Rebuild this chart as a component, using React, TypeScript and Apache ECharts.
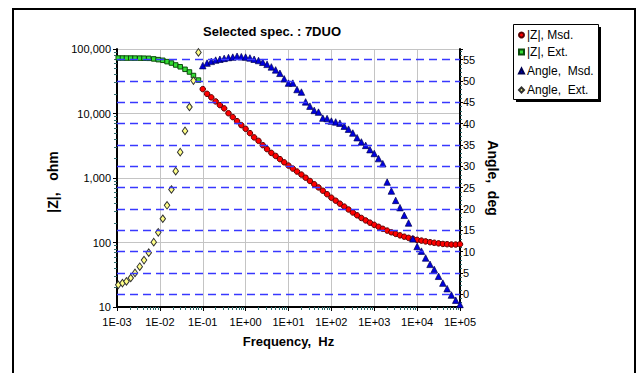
import React, { useEffect, useRef } from "react";
import * as echarts from "echarts";

// Extrapolated (model) data, frequencies in Hz
const extFreq = [0.00107, 0.00134, 0.00166, 0.00209, 0.00263, 0.00339, 0.00427, 0.0055, 0.00719, 0.00917, 0.0117, 0.0147, 0.0186, 0.0234, 0.0298, 0.0386, 0.049, 0.0607, 0.0794];
const extZ = [72500, 72500, 72400, 72400, 72300, 72200, 72000, 71700, 70200, 68400, 66800, 63700, 60600, 56500, 53000, 48400, 44000, 38800, 33000];
const extAngle = [2.2, 2.6, 3.0, 3.8, 5.0, 6.45, 8.0, 9.75, 12.2, 14.5, 17.7, 20.85, 24.55, 28.85, 33.3, 38.3, 43.9, 50.1, 56.7];

// Measured data
const msdFreq = [
  0.1, 0.126, 0.158, 0.2, 0.251, 0.316, 0.398, 0.501, 0.631, 0.794,
  1, 1.26, 1.58, 2, 2.51, 3.16, 3.98, 5.01, 6.31, 7.94,
  10, 12.6, 15.8, 20, 25.1, 31.6, 39.8, 50.1, 63.1, 79.4,
  100, 126, 158, 200, 251, 316, 398, 501, 631, 794,
  1000, 1260, 1580, 2000, 2510, 3160, 3980, 5010, 6310, 7940,
  10000, 12600, 15800, 20000, 25100, 31600, 39800, 50100, 63100, 79400,
  100000,
];
const msdZ = [
  23900, 20200, 17800, 15400, 13500, 12000, 10100, 8790, 7620, 6600,
  5780, 4960, 4260, 3770, 3230, 2800, 2450, 2200, 1960, 1750,
  1560, 1400, 1260, 1130, 1010, 900, 800, 715, 635, 560,
  495, 445, 400, 360, 325, 292, 264, 240, 220, 203,
  188, 175, 163, 153, 144, 136, 129, 123, 118, 114,
  110, 107, 104, 101, 99, 97, 95, 94, 93, 93,
  94,
];
const msdAngle = [
  53.6, 54.2, 54.6, 54.9, 55.1, 55.3, 55.5, 55.6, 55.8, 55.7,
  55.6, 55.4, 55.1, 54.8, 54.4, 53.9, 53.3, 52.6, 51.8, 50.5,
  49.5, 49.5, 48.0, 47.4, 45.1, 44.1, 43.1, 42.7, 41.3, 41.2,
  40.6, 40.4, 40.1, 39.4, 38.7, 37.8, 36.7, 35.7, 34.9, 33.9,
  33.0, 31.8, 30.6, 26.3, 24.2, 22.0, 20.3, 18.5, 16.7, 13.0,
  11.2, 10.1, 8.5, 7.0, 5.8, 4.2, 2.6, 1.3, -0.2, -1.4,
  -2.4,
];

const angleGridValues = [0, 5, 10, 15, 20, 25, 30, 35, 40, 45, 50, 55];
const seriesNames = ["|Z|, Msd.", "|Z|, Ext.", "Angle,  Msd.", "Angle,  Ext."];

const FONT = "'Liberation Sans', Arial, Helvetica, sans-serif";

function expLabel(v: number) {
  const e = Math.round(Math.log10(v));
  const s = String(Math.abs(e)).padStart(2, "0");
  return "1E" + (e < 0 ? "-" : "+") + s;
}

export default function App() {
  const ref = useRef<HTMLDivElement>(null);
  useEffect(() => {
    const chart = echarts.init(ref.current!, null, { renderer: "svg" });
    const legendCenters = [35, 52, 71, 90];
    chart.setOption({
      animation: false,
      backgroundColor: "#ffffff",
      textStyle: { fontFamily: FONT },
      title: {
        text: "Selected spec. : 7DUO",
        left: 203,
        top: 25,
        padding: 0,
        textStyle: { fontSize: 13, fontWeight: "bold", color: "#000", fontFamily: FONT },
      },
      grid: { left: 117, top: 49, width: 343, height: 258 },
      legend: seriesNames.map((name, i) => ({
        data: [name],
        orient: "vertical",
        left: 518,
        top: legendCenters[i] - 7,
        padding: 0,
        itemWidth: 5,
        itemHeight: 5,
        itemGap: 0,
        selectedMode: false,
        textStyle: { fontSize: 12, lineHeight: 14, color: "#000", fontFamily: FONT, padding: [0, 0, 0, -2] },
      })),
      xAxis: {
        type: "log",
        logBase: 10,
        min: 0.001,
        max: 100000,
        name: "Frequency,  Hz",
        nameLocation: "middle",
        nameGap: 28,
        nameTextStyle: { fontSize: 13, fontWeight: "bold", color: "#000", fontFamily: FONT },
        axisLine: { onZero: false, lineStyle: { color: "#000", width: 2 } },
        axisTick: { show: true, length: 4, lineStyle: { color: "#000" } },
        minorTick: { show: true, splitNumber: 9, length: 3, lineStyle: { color: "#2e6b6b" } },
        axisLabel: { formatter: expLabel, fontSize: 11, color: "#000", margin: 9, fontFamily: FONT },
        splitLine: { show: true, lineStyle: { color: "#c4c4c4", width: 1 } },
      },
      yAxis: [
        {
          type: "log",
          logBase: 10,
          min: 10,
          max: 100000,
          position: "left",
          name: "|Z|,   ohm",
          nameLocation: "middle",
          nameGap: 57,
          nameTextStyle: { fontSize: 14, fontWeight: "bold", color: "#000", fontFamily: FONT, padding: [0, 8, 0, 0] },
          axisLine: { onZero: false, lineStyle: { color: "#000", width: 2 } },
          axisTick: { show: true, length: 4, lineStyle: { color: "#000" } },
          minorTick: { show: true, splitNumber: 9, length: 3, lineStyle: { color: "#2e6b6b" } },
          axisLabel: {
            formatter: (v: number) => Math.round(v).toLocaleString("en-US"),
            fontSize: 11,
            color: "#000",
            margin: 6,
            fontFamily: FONT,
          },
          splitLine: { show: true, lineStyle: { color: "#c4c4c4", width: 1 } },
        },
        {
          type: "value",
          min: -3,
          max: 57.5,
          splitNumber: 12,
          position: "right",
          name: "Angle,  deg",
          nameLocation: "middle",
          nameRotate: -90,
          nameGap: 17,
          nameTextStyle: { fontSize: 14, fontWeight: "bold", color: "#000", fontFamily: FONT },
          axisLine: { onZero: false, lineStyle: { color: "#000", width: 2 } },
          axisTick: { show: true, length: 3, lineStyle: { color: "#000" } },
          minorTick: { show: true, splitNumber: 5, length: 2, lineStyle: { color: "#2e6b6b" } },
          axisLabel: { fontSize: 11, color: "#000", margin: 3, showMinLabel: false, showMaxLabel: false, fontFamily: FONT },
          splitLine: { show: false },
        },
      ],
      graphic: [
        { type: "rect", silent: true, z: 0, shape: { x: 13, y: 9, width: 622, height: 380 }, style: { fill: "none", stroke: "#000", lineWidth: 2 } },
        { type: "rect", silent: true, z: 0, shape: { x: 516, y: 27, width: 85, height: 75 }, style: { fill: "#000" } },
        { type: "rect", silent: true, z: 0, shape: { x: 513.5, y: 24.5, width: 85, height: 75 }, style: { fill: "#fff", stroke: "#000", lineWidth: 1 } },
      ],
      series: [
        {
          name: "angleGrid",
          type: "line",
          xAxisIndex: 0,
          yAxisIndex: 1,
          data: [],
          silent: true,
          z: 1,
          markLine: {
            silent: true,
            symbol: ["none", "none"],
            label: { show: false },
            lineStyle: { color: "#3838ff", type: [8, 5], width: 1.3 },
            data: angleGridValues.map((v) => ({ yAxis: v })),
          },
        },
        {
          name: seriesNames[0],
          type: "scatter",
          yAxisIndex: 0,
          data: msdFreq.map((f, i) => [f, msdZ[i]]),
          symbol: "circle",
          symbolSize: 5.5,
          z: 3,
          itemStyle: { color: "#ff0000", borderColor: "#5a0000", borderWidth: 1, opacity: 1 },
        },
        {
          name: seriesNames[1],
          type: "scatter",
          yAxisIndex: 0,
          data: extFreq.map((f, i) => [f, extZ[i]]),
          symbol: "rect",
          symbolSize: 4.5,
          z: 3,
          itemStyle: { color: "#33dd33", borderColor: "#0a4a0a", borderWidth: 1, opacity: 1 },
        },
        {
          name: seriesNames[2],
          type: "scatter",
          yAxisIndex: 1,
          data: msdFreq.map((f, i) => [f, msdAngle[i]]),
          symbol: "triangle",
          symbolSize: 6.5,
          z: 4,
          itemStyle: { color: "#0000dd", borderColor: "#000050", borderWidth: 0.7, opacity: 1 },
        },
        {
          name: seriesNames[3],
          type: "scatter",
          yAxisIndex: 1,
          data: extFreq.map((f, i) => [f, extAngle[i]]),
          symbol: "diamond",
          symbolSize: [5.5, 7.5],
          z: 4,
          itemStyle: { color: "#ffff88", borderColor: "#303030", borderWidth: 1, opacity: 1 },
        },
      ],
    });
    return () => chart.dispose();
  }, []);
  return (
    <div
      ref={ref}
      style={{ position: "fixed", left: 0, top: 0, width: 639, height: 373, background: "#fff" }}
    />
  );
}
